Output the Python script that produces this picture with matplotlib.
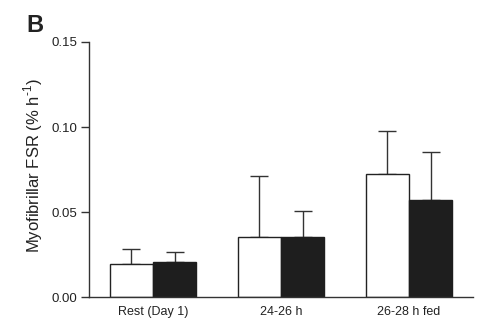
import matplotlib
matplotlib.use("Agg")
import matplotlib.pyplot as plt
import numpy as np

plt.rcParams['font.family'] = ['Liberation Sans', 'DejaVu Sans']
plt.rcParams['mathtext.fontset'] = 'custom'
plt.rcParams['mathtext.rm'] = 'Liberation Sans'

categories = ["Rest (Day 1)", "24-26 h", "26-28 h fed"]
white_vals = [0.0196, 0.0352, 0.0723]
white_err = [0.0086, 0.0363, 0.0252]
black_vals = [0.0207, 0.0352, 0.0572]
black_err = [0.0061, 0.0157, 0.0282]
yticks = [0.00, 0.05, 0.10, 0.15]

fig = plt.figure(figsize=(4.78, 3.23), dpi=100)
ax = fig.add_axes([89/478, 1-297.3/323, (473-89)/478, (297.3-42)/323])

x = np.arange(len(categories))
w = 0.336
ax.bar(x - w/2, white_vals, w, color='white', edgecolor='#222222', linewidth=1.0, zorder=2)
ax.bar(x + w/2, black_vals, w, color='#1e1e1e', edgecolor='#1e1e1e', linewidth=1.0, zorder=2)
ax.errorbar(x - w/2, white_vals, yerr=[np.zeros(3), white_err], fmt='none',
            ecolor='#333333', elinewidth=1.0, capsize=6.5, capthick=1.0, zorder=1)
ax.errorbar(x + w/2, black_vals, yerr=[np.zeros(3), black_err], fmt='none',
            ecolor='#333333', elinewidth=1.0, capsize=6.5, capthick=1.0, zorder=1)

ax.set_xlim(-0.5, 2.5)
ax.set_ylim(0, 0.15)
ax.set_yticks(yticks)
ax.set_yticklabels([f"{v:.2f}" for v in yticks], fontsize=9.5, color='#222222')
ax.set_xticks(x)
ax.set_xticklabels(categories, fontsize=9, color='#222222')
ax.tick_params(axis='x', length=0, pad=6)
ax.tick_params(axis='y', length=5.5, width=1, direction='out', color='#333333', pad=3)
for s in ['top', 'right']:
    ax.spines[s].set_visible(False)
for s in ['left', 'bottom']:
    ax.spines[s].set_color('#333333')
    ax.spines[s].set_linewidth(1.0)

fig.text(33/478, 1-166/323, "Myofibrillar FSR (% h$^{\\mathrm{\u2010}1}$)", rotation=90,
         ha='center', va='center', fontsize=12, color='#222222')
fig.text(26/478, 1-32/323, "B", fontsize=17, fontweight='bold', ha='left', va='baseline', color='#222222')

fig.savefig("out.png", dpi=100)
